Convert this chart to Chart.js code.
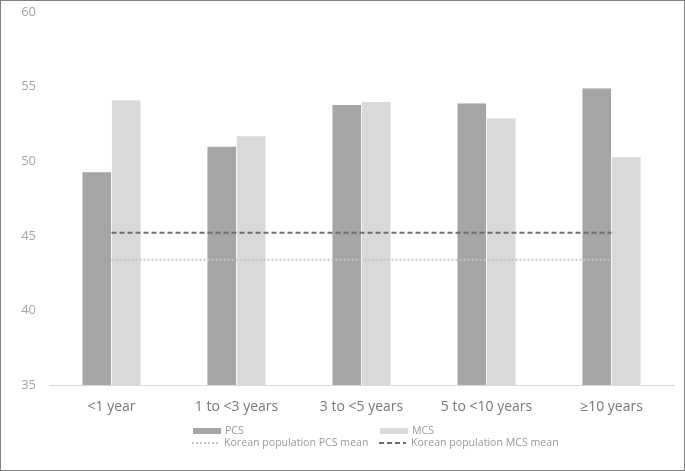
<!DOCTYPE html>
<html>
<head>
<meta charset="utf-8">
<script src="https://cdn.jsdelivr.net/npm/chart.js@4/dist/chart.umd.min.js"></script>
<style>
  html, body { margin: 0; padding: 0; background: #fff; }
  #wrap { position: relative; width: 685px; height: 471px; }
</style>
</head>
<body>
<div id="wrap"><canvas id="c" width="685" height="471"></canvas></div>
<script>
const categories = ['<1 year', '1 to <3 years', '3 to <5 years', '5 to <10 years', '\u226510 years'];
const pcsValues = [49.3, 51.0, 53.8, 53.9, 54.9];
const mcsValues = [54.1, 51.7, 54.0, 52.9, 50.3];
const pcsMeanLine = [43.4, 43.4, 43.4, 43.4, 43.4];
const mcsMeanLine = [45.2, 45.2, 45.2, 45.2, 45.2];
const yTicks = [35, 40, 45, 50, 55, 60];

const FONT = "'Open Sans', 'Liberation Sans', sans-serif";

const legendPlugin = {
  id: 'gridLegend',
  afterDraw(chart) {
    const ctx = chart.ctx;
    const ds = chart.data.datasets;
    const items = [
      { d: ds[0], x: 193, y: 431, kind: 'box' },
      { d: ds[1], x: 380, y: 431, kind: 'box' },
      { d: ds[2], x: 192, y: 443, kind: 'line' },
      { d: ds[3], x: 379, y: 443, kind: 'line' }
    ];
    ctx.save();
    ctx.font = '10.6px ' + FONT;
    ctx.textBaseline = 'middle';
    ctx.textAlign = 'left';
    items.forEach(it => {
      if (it.kind === 'box') {
        ctx.fillStyle = it.d.backgroundColor;
        ctx.fillRect(it.x, it.y - 3, 28, 6);
      } else {
        ctx.strokeStyle = it.d.borderColor;
        ctx.lineWidth = it.d.borderWidth;
        ctx.setLineDash(it.d.borderDash);
        ctx.beginPath();
        ctx.moveTo(it.x, it.y);
        ctx.lineTo(it.x + 27, it.y);
        ctx.stroke();
        ctx.setLineDash([]);
      }
      ctx.fillStyle = '#9a9a9a';
      ctx.fillText(it.d.label, it.x + 32, it.y);
    });
    ctx.strokeStyle = '#808080';
    ctx.lineWidth = 2;
    ctx.strokeRect(0, 0, 685, 471);
    ctx.restore();
  }
};

new Chart(document.getElementById('c'), {
  type: 'bar',
  data: {
    labels: categories,
    datasets: [
      { type: 'bar', label: 'PCS', data: pcsValues, backgroundColor: '#a5a5a5', borderColor: '#ececec', borderWidth: 0.5, order: 2 },
      { type: 'bar', label: 'MCS', data: mcsValues, backgroundColor: '#d9d9d9', borderColor: '#f2f2f2', borderWidth: 0.5, order: 2 },
      { type: 'line', label: 'Korean population PCS mean', data: pcsMeanLine, borderColor: '#c4c4c4', borderWidth: 2, borderDash: [2, 2], pointRadius: 0, fill: false, order: 1 },
      { type: 'line', label: 'Korean population MCS mean', data: mcsMeanLine, borderColor: '#6e6e6e', borderWidth: 2, borderDash: [5, 3], pointRadius: 0, fill: false, order: 1 }
    ]
  },
  options: {
    responsive: false,
    animation: false,
    devicePixelRatio: 1,
    layout: { padding: { left: 0, right: 11, top: 12, bottom: 51 } },
    datasets: { bar: { barPercentage: 1.0, categoryPercentage: 0.472 } },
    plugins: { legend: { display: false }, tooltip: { enabled: false } },
    scales: {
      x: {
        offset: true,
        grid: { display: false, drawTicks: false },
        border: { display: true, color: '#d9d9d9', width: 1 },
        ticks: { color: '#787878', font: { family: FONT, size: 14 }, padding: 14, maxRotation: 0 },
        afterFit(s) { s.height = 35; s.paddingLeft = 0; s.paddingRight = 0; }
      },
      y: {
        min: 35, max: 60,
        afterBuildTicks(s) { s.ticks = yTicks.map(v => ({ value: v })); },
        grid: { display: false, drawTicks: false },
        border: { display: false },
        ticks: { color: '#a6a6a6', font: { family: FONT, size: 13 }, padding: 13 },
        afterFit(s) { s.width = 49; s.paddingTop = 0; s.paddingBottom = 0; }
      }
    }
  },
  plugins: [legendPlugin]
});
</script>
</body>
</html>
